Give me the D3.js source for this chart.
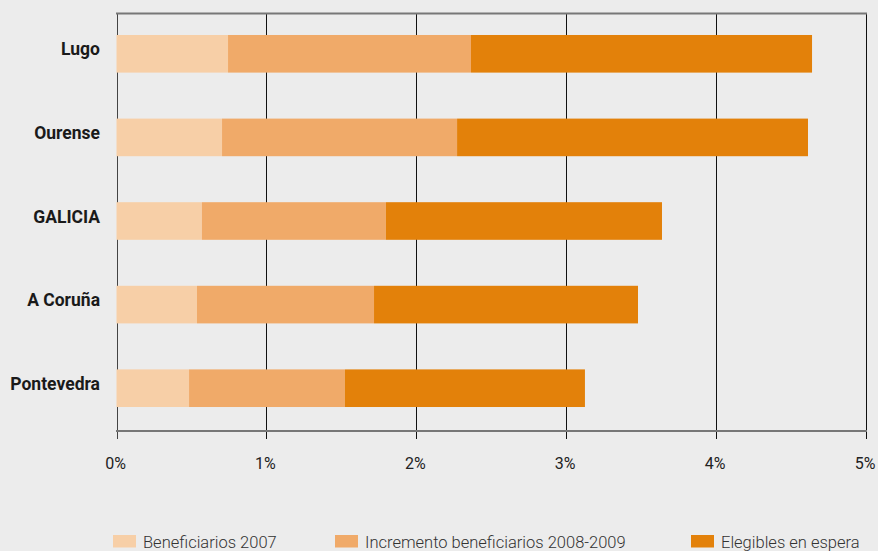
<!DOCTYPE html>
<html><head><meta charset="utf-8">
<script src="https://cdn.jsdelivr.net/npm/d3@7"></script>
<style>
html,body{margin:0;padding:0;background:#ececec;}
svg{display:block;}
text{font-family:Roboto,"DejaVu Sans",sans-serif;}
</style></head>
<body><svg id="c" width="878" height="551"></svg>
<script>
const categories = ["Lugo","Ourense","GALICIA","A Coruña","Pontevedra"];
const seriesNames = ["Beneficiarios 2007","Incremento beneficiarios 2008-2009","Elegibles en espera"];
const beneficiarios2007 = [0.744,0.704,0.570,0.537,0.484];
const incremento20082009 = [1.621,1.568,1.227,1.181,1.040];
const elegiblesEspera = [2.275,2.341,1.842,1.761,1.601];
const tickValues = [0,1,2,3,4,5];
const tickLabels = ["0%","1%","2%","3%","4%","5%"];
const colors = ["#f7cfa7","#f0aa69","#e3810a"];

const svg = d3.select("#c");
const x = d3.scaleLinear().domain([0,5]).range([116.5,866]);
const y = d3.scaleBand().domain(categories).range([12,430]).paddingInner(0.55).paddingOuter(0.275);

const rows = categories.map((c,i)=>({cat:c, b:beneficiarios2007[i], inc:incremento20082009[i], e:elegiblesEspera[i]}));
const stack = d3.stack().keys(["b","inc","e"])(rows);

// grid lines
svg.append("g").selectAll("line").data(tickValues).join("line")
  .attr("x1",d=>Math.round(x(d))+0.5).attr("x2",d=>Math.round(x(d))+0.5)
  .attr("y1",13).attr("y2",439)
  .attr("stroke",(d,i)=> i===0 ? "#444" : "#111").attr("stroke-width",1);

// bars
svg.append("g").selectAll("g").data(stack).join("g")
  .attr("fill",(d,i)=>colors[i])
  .selectAll("rect").data(d=>d).join("rect")
  .attr("x",d=>x(d[0])).attr("width",d=>x(d[1])-x(d[0]))
  .attr("y",d=>y(d.data.cat)).attr("height",y.bandwidth());

// top and bottom frame lines
svg.append("line").attr("x1",116).attr("x2",867).attr("y1",13.5).attr("y2",13.5).attr("stroke","#777").attr("stroke-width",2);
svg.append("line").attr("x1",116).attr("x2",867).attr("y1",431).attr("y2",431).attr("stroke","#777").attr("stroke-width",2);

// x axis labels
svg.append("g").selectAll("text").data(tickValues).join("text")
  .attr("x",d=>x(d)-1).attr("y",469).attr("text-anchor","middle")
  .attr("font-size",16).attr("fill","#222")
  .text((d,i)=>tickLabels[i]);

// category labels
svg.append("g").selectAll("text").data(categories).join("text")
  .attr("x",100).attr("y",d=>y(d)+y.bandwidth()/2+1.5)
  .attr("text-anchor","end").attr("font-size",17.5).attr("font-weight","bold").attr("fill","#1a1a1a")
  .text(d=>d);

// legend
const legX = [113,335,691];
const leg = svg.append("g").selectAll("g").data(seriesNames).join("g")
  .attr("transform",(d,i)=>`translate(${legX[i]},535)`);
leg.append("rect").attr("width",23).attr("height",12.5).attr("fill",(d,i)=>colors[i]);
leg.append("text").attr("x",30).attr("y",13).attr("font-size",16.5).attr("fill","#333").attr("font-weight",300).text(d=>d);
</script></body></html>
